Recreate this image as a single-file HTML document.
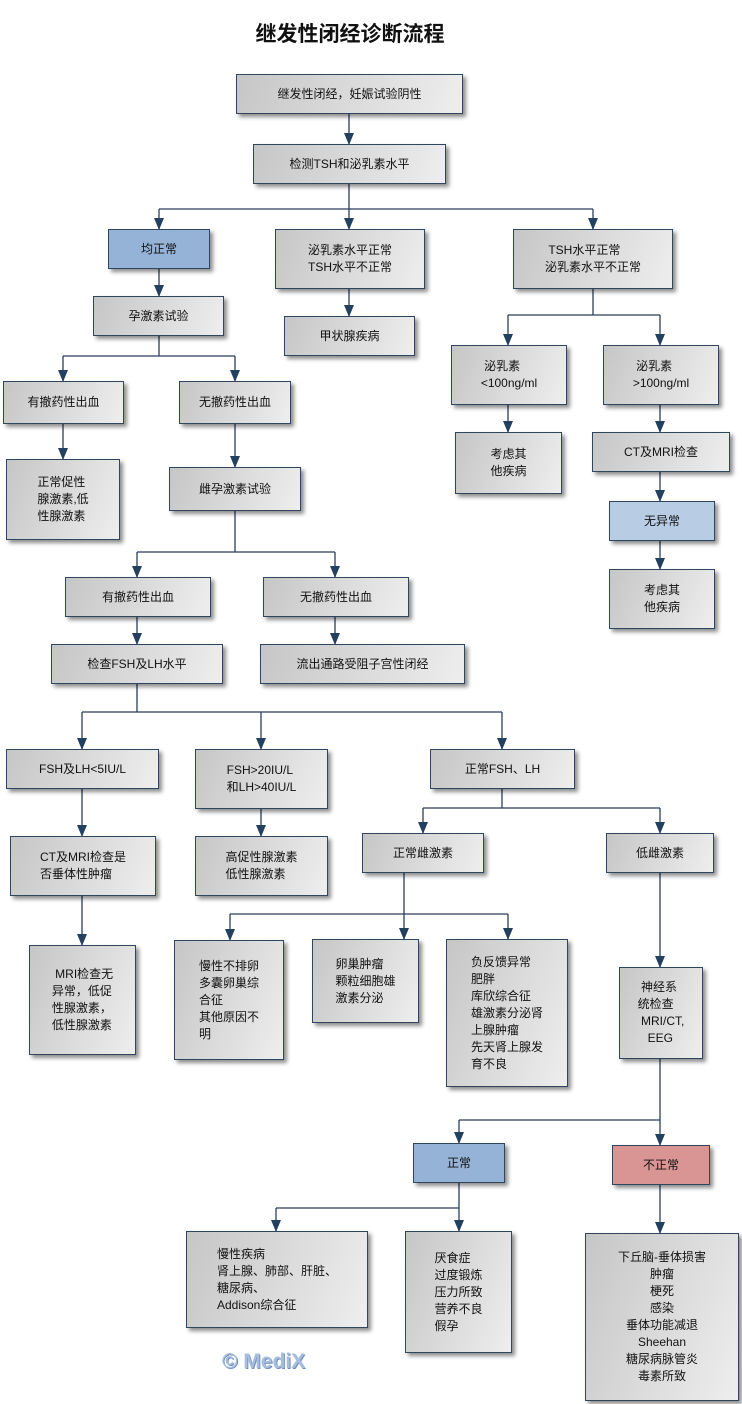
<!DOCTYPE html>
<html><head><meta charset="utf-8"><style>
body{margin:0;width:742px;height:1404px;background:#fff;position:relative;overflow:hidden;font-family:"Liberation Sans","Noto Sans CJK SC",sans-serif;font-size:12px;color:#111}
.b{position:absolute;box-sizing:border-box;border:1px solid #2f4560;background:linear-gradient(110deg,#c6c6c6,#eeeeee);box-shadow:3px 3px 4px rgba(0,0,0,.45);display:flex;align-items:center;justify-content:center;line-height:17px}
.b span{display:inline-block;text-align:left}
.blue{background:#95b3d7}.lb{background:#b8cce4}.pk{background:#d99594}
svg{position:absolute;left:0;top:0}
.t{position:absolute;left:0;width:700px;top:18px;text-align:center;font-size:21px;font-weight:bold;font-family:"Noto Sans CJK SC",sans-serif}
</style></head><body>
<div class="t">继发性闭经诊断流程</div>
<svg width="742" height="1404"><defs><marker id="a" markerWidth="12" markerHeight="10" refX="11" refY="5" orient="auto" markerUnits="userSpaceOnUse"><path d="M0,0 L12,5 L0,10 z" fill="#24405f"/></marker></defs>
<g stroke="#2a3f5a" stroke-width="1.3" fill="none">
<path d="M349,114V144" marker-end="url(#a)"/>
<path d="M349,184V209M159,209H593"/><path d="M159,209V229" marker-end="url(#a)"/><path d="M349,209V229" marker-end="url(#a)"/><path d="M593,209V229" marker-end="url(#a)"/>
<path d="M159,269V296" marker-end="url(#a)"/><path d="M349,289V316" marker-end="url(#a)"/>
<path d="M593,289V315M508,315H660"/><path d="M508,315V345" marker-end="url(#a)"/><path d="M660,315V345" marker-end="url(#a)"/>
<path d="M159,336V356M63,356H235"/><path d="M63,356V381" marker-end="url(#a)"/><path d="M235,356V381" marker-end="url(#a)"/>
<path d="M63,424V459" marker-end="url(#a)"/><path d="M235,424V467" marker-end="url(#a)"/>
<path d="M508,405V432" marker-end="url(#a)"/><path d="M660,405V432" marker-end="url(#a)"/><path d="M660,472V501" marker-end="url(#a)"/><path d="M660,541V569" marker-end="url(#a)"/>
<path d="M235,511V552M137,552H335"/><path d="M137,552V577" marker-end="url(#a)"/><path d="M335,552V577" marker-end="url(#a)"/>
<path d="M137,617V644" marker-end="url(#a)"/><path d="M335,617V644" marker-end="url(#a)"/>
<path d="M137,684V712M82,712H502"/><path d="M82,712V749" marker-end="url(#a)"/><path d="M261,712V749" marker-end="url(#a)"/><path d="M502,712V749" marker-end="url(#a)"/>
<path d="M82,789V836" marker-end="url(#a)"/><path d="M261,809V836" marker-end="url(#a)"/>
<path d="M502,789V808M423,808H660"/><path d="M423,808V833" marker-end="url(#a)"/><path d="M660,808V833" marker-end="url(#a)"/>
<path d="M82,896V945" marker-end="url(#a)"/>
<path d="M404,873V914M230,914H508"/><path d="M230,914V940" marker-end="url(#a)"/><path d="M404,914V939" marker-end="url(#a)"/><path d="M508,914V939" marker-end="url(#a)"/>
<path d="M660,873V967" marker-end="url(#a)"/>
<path d="M660,1059V1120M459,1120H660"/><path d="M459,1120V1143" marker-end="url(#a)"/><path d="M660,1120V1145" marker-end="url(#a)"/>
<path d="M459,1183V1208M276,1208H459"/><path d="M276,1208V1231" marker-end="url(#a)"/><path d="M459,1208V1231" marker-end="url(#a)"/>
<path d="M660,1185V1233" marker-end="url(#a)"/>
</g></svg>
<div class="b" style="left:236px;top:74px;width:227px;height:40px">继发性闭经，妊娠试验阴性</div>
<div class="b" style="left:253px;top:144px;width:193px;height:40px">检测TSH和泌乳素水平</div>
<div class="b blue" style="left:108px;top:229px;width:102px;height:40px">均正常</div>
<div class="b" style="left:275px;top:229px;width:150px;height:60px"><span>泌乳素水平正常<br>TSH水平不正常</span></div>
<div class="b" style="left:513px;top:229px;width:160px;height:60px"><span>&nbsp;TSH水平正常<br>泌乳素水平不正常</span></div>
<div class="b" style="left:93px;top:296px;width:131px;height:40px">孕激素试验</div>
<div class="b" style="left:284px;top:316px;width:131px;height:40px">甲状腺疾病</div>
<div class="b" style="left:451px;top:345px;width:116px;height:60px"><span>&nbsp;泌乳素<br>&lt;100ng/ml</span></div>
<div class="b" style="left:603px;top:345px;width:116px;height:60px"><span>&nbsp;泌乳素<br>&gt;100ng/ml</span></div>
<div class="b" style="left:3px;top:381px;width:121px;height:43px">有撤药性出血</div>
<div class="b" style="left:179px;top:381px;width:112px;height:43px">无撤药性出血</div>
<div class="b" style="left:455px;top:432px;width:107px;height:62px"><span>考虑其<br>他疾病</span></div>
<div class="b" style="left:592px;top:432px;width:138px;height:40px">CT及MRI检查</div>
<div class="b" style="left:6px;top:459px;width:114px;height:81px"><span>正常促性<br>腺激素,低<br>性腺激素</span></div>
<div class="b" style="left:169px;top:467px;width:132px;height:44px">雌孕激素试验</div>
<div class="b lb" style="left:609px;top:501px;width:106px;height:40px">无异常</div>
<div class="b" style="left:65px;top:577px;width:146px;height:40px">有撤药性出血</div>
<div class="b" style="left:263px;top:577px;width:146px;height:40px">无撤药性出血</div>
<div class="b" style="left:609px;top:569px;width:106px;height:60px"><span>考虑其<br>他疾病</span></div>
<div class="b" style="left:51px;top:644px;width:172px;height:40px">检查FSH及LH水平</div>
<div class="b" style="left:260px;top:644px;width:205px;height:40px">流出通路受阻子宫性闭经</div>
<div class="b" style="left:6px;top:749px;width:153px;height:40px">FSH及LH&lt;5IU/L</div>
<div class="b" style="left:195px;top:749px;width:133px;height:60px"><span>FSH&gt;20IU/L<br>和LH&gt;40IU/L</span></div>
<div class="b" style="left:430px;top:749px;width:145px;height:40px">正常FSH、LH</div>
<div class="b" style="left:10px;top:836px;width:146px;height:60px"><span>CT及MRI检查是<br>否垂体性肿瘤</span></div>
<div class="b" style="left:195px;top:836px;width:133px;height:60px"><span>高促性腺激素<br>低性腺激素</span></div>
<div class="b" style="left:362px;top:833px;width:122px;height:40px">正常雌激素</div>
<div class="b" style="left:606px;top:833px;width:108px;height:40px">低雌激素</div>
<div class="b" style="left:29px;top:945px;width:107px;height:110px"><span>&nbsp;MRI检查无<br>异常，低促<br>性腺激素，<br>低性腺激素</span></div>
<div class="b" style="left:174px;top:940px;width:110px;height:120px"><span>慢性不排卵<br>多囊卵巢综<br>合征<br>其他原因不<br>明</span></div>
<div class="b" style="left:312px;top:939px;width:107px;height:84px"><span>卵巢肿瘤<br>颗粒细胞雄<br>激素分泌</span></div>
<div class="b" style="left:446px;top:939px;width:122px;height:148px"><span>负反馈异常<br>肥胖<br>库欣综合征<br>雄激素分泌肾<br>上腺肿瘤<br>先天肾上腺发<br>育不良</span></div>
<div class="b" style="left:619px;top:967px;width:84px;height:92px"><span>&nbsp;神经系<br>统检查<br>&nbsp;MRI/CT,<br>&nbsp;&nbsp;&nbsp;EEG</span></div>
<div class="b blue" style="left:413px;top:1143px;width:92px;height:40px">正常</div>
<div class="b pk" style="left:612px;top:1145px;width:98px;height:40px">不正常</div>
<div class="b" style="left:186px;top:1231px;width:182px;height:97px"><span>慢性疾病<br>肾上腺、肺部、肝脏、<br>糖尿病、<br>Addison综合征</span></div>
<div class="b" style="left:405px;top:1231px;width:107px;height:122px"><span>厌食症<br>过度锻炼<br>压力所致<br>营养不良<br>假孕</span></div>
<div class="b" style="left:585px;top:1233px;width:154px;height:168px;text-align:center"><span style="text-align:center">下丘脑-垂体损害<br>肿瘤<br>梗死<br>感染<br>垂体功能减退<br>Sheehan<br>糖尿病脉管炎<br>毒素所致</span></div>
<div style="position:absolute;left:222px;top:1350px;font-size:21px;font-weight:bold;color:#a8bedc;text-shadow:1px 1px 0 #6f8fbf">© MediX</div>
</body></html>
